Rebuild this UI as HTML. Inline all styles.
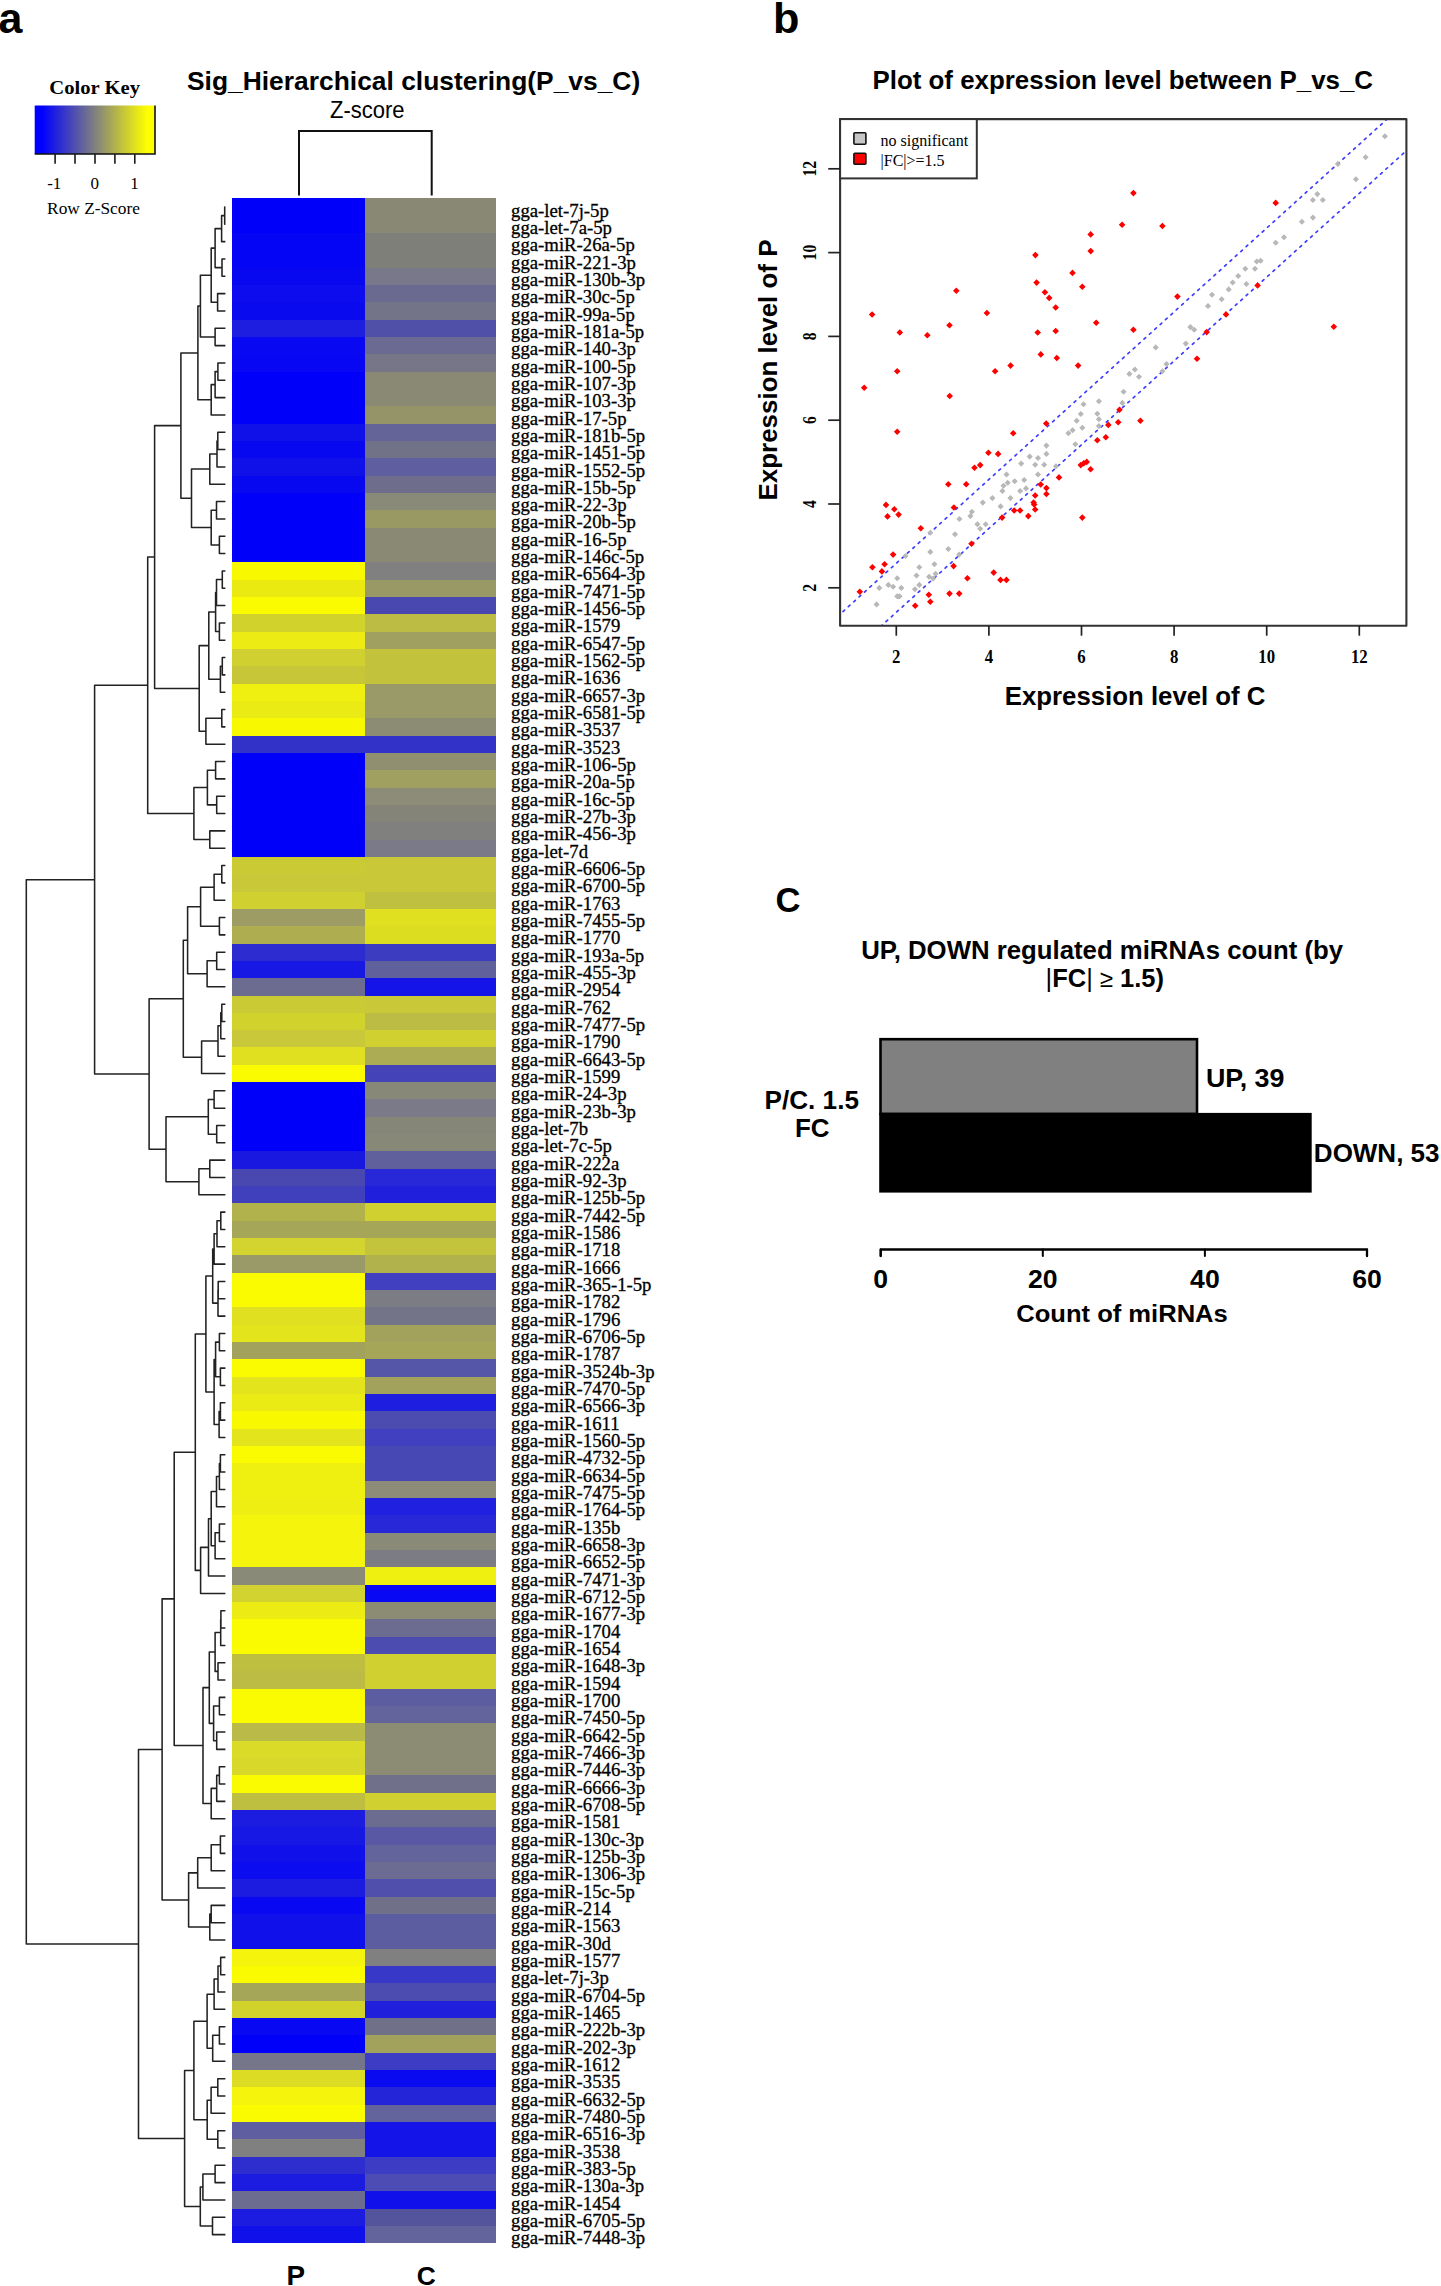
<!DOCTYPE html><html><head><meta charset="utf-8"><style>html,body{margin:0;padding:0;background:#fff;}svg{display:block;}</style></head><body>
<svg width="1441" height="2286" viewBox="0 0 1441 2286">
<rect width="100%" height="100%" fill="#fff"/>
<defs><linearGradient id="ck" x1="0" x2="1" y1="0" y2="0"><stop offset="0" stop-color="#0000ff"/><stop offset="0.06" stop-color="#0000ff"/><stop offset="0.5" stop-color="#808080"/><stop offset="0.94" stop-color="#ffff00"/><stop offset="1" stop-color="#ffff00"/></linearGradient></defs>
<rect x="34.7" y="105.5" width="120" height="48.5" fill="url(#ck)"/>
<path d="M34.7 154 H155 V105.5" fill="none" stroke="#111" stroke-width="1.6"/>
<line x1="55.1" y1="154" x2="55.1" y2="163.8" stroke="#1a1a1a" stroke-width="1.6"/>
<line x1="75.0" y1="154" x2="75.0" y2="163.8" stroke="#1a1a1a" stroke-width="1.6"/>
<line x1="95.0" y1="154" x2="95.0" y2="163.8" stroke="#1a1a1a" stroke-width="1.6"/>
<line x1="114.9" y1="154" x2="114.9" y2="163.8" stroke="#1a1a1a" stroke-width="1.6"/>
<line x1="134.8" y1="154" x2="134.8" y2="163.8" stroke="#1a1a1a" stroke-width="1.6"/>
<g font-family='"Liberation Serif", serif' font-size="17" text-anchor="middle">
<text x="54.3" y="189">-1</text><text x="94.8" y="189">0</text><text x="134.6" y="189">1</text>
</g>
<path d="M299 195.5 V131 H431.7 V195.5" fill="none" stroke="#111" stroke-width="2"/>
<g shape-rendering="crispEdges">
<rect x="232" y="198.3" width="132.8" height="17.33" fill="#0000FA"/>
<rect x="364.8" y="198.3" width="131.2" height="17.33" fill="#888874"/>
<rect x="232" y="215.63" width="132.8" height="17.33" fill="#0000FA"/>
<rect x="364.8" y="215.63" width="131.2" height="17.33" fill="#888874"/>
<rect x="232" y="232.96" width="132.8" height="17.33" fill="#0505F5"/>
<rect x="364.8" y="232.96" width="131.2" height="17.33" fill="#7F7F7A"/>
<rect x="232" y="250.29" width="132.8" height="17.33" fill="#0505F5"/>
<rect x="364.8" y="250.29" width="131.2" height="17.33" fill="#7F7F7A"/>
<rect x="232" y="267.62" width="132.8" height="17.33" fill="#0808F0"/>
<rect x="364.8" y="267.62" width="131.2" height="17.33" fill="#78788A"/>
<rect x="232" y="284.95" width="132.8" height="17.33" fill="#0C0CEE"/>
<rect x="364.8" y="284.95" width="131.2" height="17.33" fill="#6A6A90"/>
<rect x="232" y="302.28" width="132.8" height="17.33" fill="#0A0AEF"/>
<rect x="364.8" y="302.28" width="131.2" height="17.33" fill="#747488"/>
<rect x="232" y="319.61" width="132.8" height="17.33" fill="#1E1EE0"/>
<rect x="364.8" y="319.61" width="131.2" height="17.33" fill="#5050A8"/>
<rect x="232" y="336.94" width="132.8" height="17.33" fill="#0808F2"/>
<rect x="364.8" y="336.94" width="131.2" height="17.33" fill="#6A6A92"/>
<rect x="232" y="354.27" width="132.8" height="17.33" fill="#0707F3"/>
<rect x="364.8" y="354.27" width="131.2" height="17.33" fill="#767688"/>
<rect x="232" y="371.61" width="132.8" height="17.33" fill="#0000FA"/>
<rect x="364.8" y="371.61" width="131.2" height="17.33" fill="#8A8A74"/>
<rect x="232" y="388.94" width="132.8" height="17.33" fill="#0000FA"/>
<rect x="364.8" y="388.94" width="131.2" height="17.33" fill="#8A8A74"/>
<rect x="232" y="406.27" width="132.8" height="17.33" fill="#0000FA"/>
<rect x="364.8" y="406.27" width="131.2" height="17.33" fill="#949468"/>
<rect x="232" y="423.6" width="132.8" height="17.33" fill="#1010E8"/>
<rect x="364.8" y="423.6" width="131.2" height="17.33" fill="#646498"/>
<rect x="232" y="440.93" width="132.8" height="17.33" fill="#0808F0"/>
<rect x="364.8" y="440.93" width="131.2" height="17.33" fill="#717188"/>
<rect x="232" y="458.26" width="132.8" height="17.33" fill="#1010E8"/>
<rect x="364.8" y="458.26" width="131.2" height="17.33" fill="#5E5EA0"/>
<rect x="232" y="475.59" width="132.8" height="17.33" fill="#0808F0"/>
<rect x="364.8" y="475.59" width="131.2" height="17.33" fill="#6E6E8C"/>
<rect x="232" y="492.92" width="132.8" height="17.33" fill="#0000FA"/>
<rect x="364.8" y="492.92" width="131.2" height="17.33" fill="#8A8A78"/>
<rect x="232" y="510.25" width="132.8" height="17.33" fill="#0000FA"/>
<rect x="364.8" y="510.25" width="131.2" height="17.33" fill="#999964"/>
<rect x="232" y="527.58" width="132.8" height="17.33" fill="#0000FA"/>
<rect x="364.8" y="527.58" width="131.2" height="17.33" fill="#8A8A74"/>
<rect x="232" y="544.91" width="132.8" height="17.33" fill="#0000FA"/>
<rect x="364.8" y="544.91" width="131.2" height="17.33" fill="#8A8A74"/>
<rect x="232" y="562.24" width="132.8" height="17.33" fill="#F8F800"/>
<rect x="364.8" y="562.24" width="131.2" height="17.33" fill="#808080"/>
<rect x="232" y="579.57" width="132.8" height="17.33" fill="#EAEA10"/>
<rect x="364.8" y="579.57" width="131.2" height="17.33" fill="#999966"/>
<rect x="232" y="596.9" width="132.8" height="17.33" fill="#FAFA00"/>
<rect x="364.8" y="596.9" width="131.2" height="17.33" fill="#4848B0"/>
<rect x="232" y="614.23" width="132.8" height="17.33" fill="#D2D22C"/>
<rect x="364.8" y="614.23" width="131.2" height="17.33" fill="#BCBC44"/>
<rect x="232" y="631.56" width="132.8" height="17.33" fill="#ECEC14"/>
<rect x="364.8" y="631.56" width="131.2" height="17.33" fill="#A0A060"/>
<rect x="232" y="648.89" width="132.8" height="17.33" fill="#D0D030"/>
<rect x="364.8" y="648.89" width="131.2" height="17.33" fill="#C2C23C"/>
<rect x="232" y="666.22" width="132.8" height="17.33" fill="#C6C638"/>
<rect x="364.8" y="666.22" width="131.2" height="17.33" fill="#C2C23C"/>
<rect x="232" y="683.55" width="132.8" height="17.33" fill="#F0F010"/>
<rect x="364.8" y="683.55" width="131.2" height="17.33" fill="#9A9A68"/>
<rect x="232" y="700.88" width="132.8" height="17.33" fill="#EAEA14"/>
<rect x="364.8" y="700.88" width="131.2" height="17.33" fill="#9A9A68"/>
<rect x="232" y="718.22" width="132.8" height="17.33" fill="#F8F800"/>
<rect x="364.8" y="718.22" width="131.2" height="17.33" fill="#8C8C74"/>
<rect x="232" y="735.55" width="132.8" height="17.33" fill="#3232C8"/>
<rect x="364.8" y="735.55" width="131.2" height="17.33" fill="#3232C8"/>
<rect x="232" y="752.88" width="132.8" height="17.33" fill="#0000FA"/>
<rect x="364.8" y="752.88" width="131.2" height="17.33" fill="#909070"/>
<rect x="232" y="770.21" width="132.8" height="17.33" fill="#0000FA"/>
<rect x="364.8" y="770.21" width="131.2" height="17.33" fill="#A0A060"/>
<rect x="232" y="787.54" width="132.8" height="17.33" fill="#0000FA"/>
<rect x="364.8" y="787.54" width="131.2" height="17.33" fill="#8C8C78"/>
<rect x="232" y="804.87" width="132.8" height="17.33" fill="#0000FA"/>
<rect x="364.8" y="804.87" width="131.2" height="17.33" fill="#848478"/>
<rect x="232" y="822.2" width="132.8" height="17.33" fill="#0000FA"/>
<rect x="364.8" y="822.2" width="131.2" height="17.33" fill="#80807E"/>
<rect x="232" y="839.53" width="132.8" height="17.33" fill="#0000FA"/>
<rect x="364.8" y="839.53" width="131.2" height="17.33" fill="#7A7A88"/>
<rect x="232" y="856.86" width="132.8" height="17.33" fill="#CACA34"/>
<rect x="364.8" y="856.86" width="131.2" height="17.33" fill="#C8C838"/>
<rect x="232" y="874.19" width="132.8" height="17.33" fill="#C8C838"/>
<rect x="364.8" y="874.19" width="131.2" height="17.33" fill="#C8C838"/>
<rect x="232" y="891.52" width="132.8" height="17.33" fill="#D0D030"/>
<rect x="364.8" y="891.52" width="131.2" height="17.33" fill="#C0C040"/>
<rect x="232" y="908.85" width="132.8" height="17.33" fill="#9C9C64"/>
<rect x="364.8" y="908.85" width="131.2" height="17.33" fill="#E0E020"/>
<rect x="232" y="926.18" width="132.8" height="17.33" fill="#AEAE50"/>
<rect x="364.8" y="926.18" width="131.2" height="17.33" fill="#DCDC20"/>
<rect x="232" y="943.51" width="132.8" height="17.33" fill="#2C2CD0"/>
<rect x="364.8" y="943.51" width="131.2" height="17.33" fill="#3C3CC0"/>
<rect x="232" y="960.84" width="132.8" height="17.33" fill="#1818E4"/>
<rect x="364.8" y="960.84" width="131.2" height="17.33" fill="#60609C"/>
<rect x="232" y="978.17" width="132.8" height="17.33" fill="#6C6C90"/>
<rect x="364.8" y="978.17" width="131.2" height="17.33" fill="#1414E8"/>
<rect x="232" y="995.5" width="132.8" height="17.33" fill="#CACA34"/>
<rect x="364.8" y="995.5" width="131.2" height="17.33" fill="#C8C838"/>
<rect x="232" y="1012.83" width="132.8" height="17.33" fill="#D2D22C"/>
<rect x="364.8" y="1012.83" width="131.2" height="17.33" fill="#BCBC44"/>
<rect x="232" y="1030.16" width="132.8" height="17.33" fill="#C8C83A"/>
<rect x="364.8" y="1030.16" width="131.2" height="17.33" fill="#D0D030"/>
<rect x="232" y="1047.49" width="132.8" height="17.33" fill="#E0E020"/>
<rect x="364.8" y="1047.49" width="131.2" height="17.33" fill="#ACAC54"/>
<rect x="232" y="1064.83" width="132.8" height="17.33" fill="#FAFA00"/>
<rect x="364.8" y="1064.83" width="131.2" height="17.33" fill="#4444B8"/>
<rect x="232" y="1082.16" width="132.8" height="17.33" fill="#0000FA"/>
<rect x="364.8" y="1082.16" width="131.2" height="17.33" fill="#888878"/>
<rect x="232" y="1099.49" width="132.8" height="17.33" fill="#0000FA"/>
<rect x="364.8" y="1099.49" width="131.2" height="17.33" fill="#7A7A88"/>
<rect x="232" y="1116.82" width="132.8" height="17.33" fill="#0000FA"/>
<rect x="364.8" y="1116.82" width="131.2" height="17.33" fill="#868678"/>
<rect x="232" y="1134.15" width="132.8" height="17.33" fill="#0000FA"/>
<rect x="364.8" y="1134.15" width="131.2" height="17.33" fill="#888878"/>
<rect x="232" y="1151.48" width="132.8" height="17.33" fill="#1818E0"/>
<rect x="364.8" y="1151.48" width="131.2" height="17.33" fill="#60609C"/>
<rect x="232" y="1168.81" width="132.8" height="17.33" fill="#4848B0"/>
<rect x="364.8" y="1168.81" width="131.2" height="17.33" fill="#2828D8"/>
<rect x="232" y="1186.14" width="132.8" height="17.33" fill="#4040BC"/>
<rect x="364.8" y="1186.14" width="131.2" height="17.33" fill="#2020DC"/>
<rect x="232" y="1203.47" width="132.8" height="17.33" fill="#B2B24C"/>
<rect x="364.8" y="1203.47" width="131.2" height="17.33" fill="#D0D030"/>
<rect x="232" y="1220.8" width="132.8" height="17.33" fill="#A6A658"/>
<rect x="364.8" y="1220.8" width="131.2" height="17.33" fill="#A6A658"/>
<rect x="232" y="1238.13" width="132.8" height="17.33" fill="#D4D430"/>
<rect x="364.8" y="1238.13" width="131.2" height="17.33" fill="#C4C43C"/>
<rect x="232" y="1255.46" width="132.8" height="17.33" fill="#9A9A68"/>
<rect x="364.8" y="1255.46" width="131.2" height="17.33" fill="#B2B24C"/>
<rect x="232" y="1272.79" width="132.8" height="17.33" fill="#FAFA00"/>
<rect x="364.8" y="1272.79" width="131.2" height="17.33" fill="#4040C0"/>
<rect x="232" y="1290.12" width="132.8" height="17.33" fill="#FAFA00"/>
<rect x="364.8" y="1290.12" width="131.2" height="17.33" fill="#7C7C84"/>
<rect x="232" y="1307.45" width="132.8" height="17.33" fill="#E0E020"/>
<rect x="364.8" y="1307.45" width="131.2" height="17.33" fill="#747488"/>
<rect x="232" y="1324.78" width="132.8" height="17.33" fill="#E4E41C"/>
<rect x="364.8" y="1324.78" width="131.2" height="17.33" fill="#A2A25C"/>
<rect x="232" y="1342.11" width="132.8" height="17.33" fill="#A2A25C"/>
<rect x="364.8" y="1342.11" width="131.2" height="17.33" fill="#A6A658"/>
<rect x="232" y="1359.44" width="132.8" height="17.33" fill="#FAFA00"/>
<rect x="364.8" y="1359.44" width="131.2" height="17.33" fill="#5656A8"/>
<rect x="232" y="1376.77" width="132.8" height="17.33" fill="#E4E41C"/>
<rect x="364.8" y="1376.77" width="131.2" height="17.33" fill="#A2A25C"/>
<rect x="232" y="1394.11" width="132.8" height="17.33" fill="#EAEA14"/>
<rect x="364.8" y="1394.11" width="131.2" height="17.33" fill="#1E1EE0"/>
<rect x="232" y="1411.44" width="132.8" height="17.33" fill="#F8F800"/>
<rect x="364.8" y="1411.44" width="131.2" height="17.33" fill="#4C4CB0"/>
<rect x="232" y="1428.77" width="132.8" height="17.33" fill="#E4E41C"/>
<rect x="364.8" y="1428.77" width="131.2" height="17.33" fill="#4040C0"/>
<rect x="232" y="1446.1" width="132.8" height="17.33" fill="#FAFA00"/>
<rect x="364.8" y="1446.1" width="131.2" height="17.33" fill="#4848B4"/>
<rect x="232" y="1463.43" width="132.8" height="17.33" fill="#F0F010"/>
<rect x="364.8" y="1463.43" width="131.2" height="17.33" fill="#4848B4"/>
<rect x="232" y="1480.76" width="132.8" height="17.33" fill="#F0F010"/>
<rect x="364.8" y="1480.76" width="131.2" height="17.33" fill="#8C8C78"/>
<rect x="232" y="1498.09" width="132.8" height="17.33" fill="#EEEE12"/>
<rect x="364.8" y="1498.09" width="131.2" height="17.33" fill="#2020E0"/>
<rect x="232" y="1515.42" width="132.8" height="17.33" fill="#F4F40C"/>
<rect x="364.8" y="1515.42" width="131.2" height="17.33" fill="#2828D8"/>
<rect x="232" y="1532.75" width="132.8" height="17.33" fill="#F4F40C"/>
<rect x="364.8" y="1532.75" width="131.2" height="17.33" fill="#8A8A78"/>
<rect x="232" y="1550.08" width="132.8" height="17.33" fill="#F4F40C"/>
<rect x="364.8" y="1550.08" width="131.2" height="17.33" fill="#7C7C84"/>
<rect x="232" y="1567.41" width="132.8" height="17.33" fill="#8A8A78"/>
<rect x="364.8" y="1567.41" width="131.2" height="17.33" fill="#F0F010"/>
<rect x="232" y="1584.74" width="132.8" height="17.33" fill="#D2D230"/>
<rect x="364.8" y="1584.74" width="131.2" height="17.33" fill="#0808F4"/>
<rect x="232" y="1602.07" width="132.8" height="17.33" fill="#ECEC14"/>
<rect x="364.8" y="1602.07" width="131.2" height="17.33" fill="#8C8C74"/>
<rect x="232" y="1619.4" width="132.8" height="17.33" fill="#FAFA00"/>
<rect x="364.8" y="1619.4" width="131.2" height="17.33" fill="#6C6C90"/>
<rect x="232" y="1636.73" width="132.8" height="17.33" fill="#FAFA00"/>
<rect x="364.8" y="1636.73" width="131.2" height="17.33" fill="#4C4CB0"/>
<rect x="232" y="1654.06" width="132.8" height="17.33" fill="#BEBE40"/>
<rect x="364.8" y="1654.06" width="131.2" height="17.33" fill="#D0D030"/>
<rect x="232" y="1671.39" width="132.8" height="17.33" fill="#BCBC44"/>
<rect x="364.8" y="1671.39" width="131.2" height="17.33" fill="#D0D030"/>
<rect x="232" y="1688.72" width="132.8" height="17.33" fill="#FAFA00"/>
<rect x="364.8" y="1688.72" width="131.2" height="17.33" fill="#5C5CA0"/>
<rect x="232" y="1706.05" width="132.8" height="17.33" fill="#FAFA00"/>
<rect x="364.8" y="1706.05" width="131.2" height="17.33" fill="#64649C"/>
<rect x="232" y="1723.38" width="132.8" height="17.33" fill="#BABA48"/>
<rect x="364.8" y="1723.38" width="131.2" height="17.33" fill="#8C8C74"/>
<rect x="232" y="1740.72" width="132.8" height="17.33" fill="#DADA28"/>
<rect x="364.8" y="1740.72" width="131.2" height="17.33" fill="#8C8C74"/>
<rect x="232" y="1758.05" width="132.8" height="17.33" fill="#D8D82A"/>
<rect x="364.8" y="1758.05" width="131.2" height="17.33" fill="#8C8C74"/>
<rect x="232" y="1775.38" width="132.8" height="17.33" fill="#FAFA00"/>
<rect x="364.8" y="1775.38" width="131.2" height="17.33" fill="#70708A"/>
<rect x="232" y="1792.71" width="132.8" height="17.33" fill="#BEBE40"/>
<rect x="364.8" y="1792.71" width="131.2" height="17.33" fill="#D0D030"/>
<rect x="232" y="1810.04" width="132.8" height="17.33" fill="#1C1CE0"/>
<rect x="364.8" y="1810.04" width="131.2" height="17.33" fill="#6C6C90"/>
<rect x="232" y="1827.37" width="132.8" height="17.33" fill="#1818E4"/>
<rect x="364.8" y="1827.37" width="131.2" height="17.33" fill="#5858A4"/>
<rect x="232" y="1844.7" width="132.8" height="17.33" fill="#1010EA"/>
<rect x="364.8" y="1844.7" width="131.2" height="17.33" fill="#64649C"/>
<rect x="232" y="1862.03" width="132.8" height="17.33" fill="#0C0CF0"/>
<rect x="364.8" y="1862.03" width="131.2" height="17.33" fill="#6C6C92"/>
<rect x="232" y="1879.36" width="132.8" height="17.33" fill="#1C1CE0"/>
<rect x="364.8" y="1879.36" width="131.2" height="17.33" fill="#5050AC"/>
<rect x="232" y="1896.69" width="132.8" height="17.33" fill="#0808F2"/>
<rect x="364.8" y="1896.69" width="131.2" height="17.33" fill="#707088"/>
<rect x="232" y="1914.02" width="132.8" height="17.33" fill="#1010EA"/>
<rect x="364.8" y="1914.02" width="131.2" height="17.33" fill="#5C5CA0"/>
<rect x="232" y="1931.35" width="132.8" height="17.33" fill="#1010EA"/>
<rect x="364.8" y="1931.35" width="131.2" height="17.33" fill="#5C5CA0"/>
<rect x="232" y="1948.68" width="132.8" height="17.33" fill="#F4F40C"/>
<rect x="364.8" y="1948.68" width="131.2" height="17.33" fill="#808080"/>
<rect x="232" y="1966.01" width="132.8" height="17.33" fill="#FAFA00"/>
<rect x="364.8" y="1966.01" width="131.2" height="17.33" fill="#3838C8"/>
<rect x="232" y="1983.34" width="132.8" height="17.33" fill="#A6A658"/>
<rect x="364.8" y="1983.34" width="131.2" height="17.33" fill="#4C4CB0"/>
<rect x="232" y="2000.67" width="132.8" height="17.33" fill="#D2D22C"/>
<rect x="364.8" y="2000.67" width="131.2" height="17.33" fill="#2020DC"/>
<rect x="232" y="2018" width="132.8" height="17.33" fill="#0808F2"/>
<rect x="364.8" y="2018" width="131.2" height="17.33" fill="#707088"/>
<rect x="232" y="2035.33" width="132.8" height="17.33" fill="#0000FA"/>
<rect x="364.8" y="2035.33" width="131.2" height="17.33" fill="#A2A25C"/>
<rect x="232" y="2052.66" width="132.8" height="17.33" fill="#76768A"/>
<rect x="364.8" y="2052.66" width="131.2" height="17.33" fill="#3C3CC4"/>
<rect x="232" y="2069.99" width="132.8" height="17.33" fill="#DCDC24"/>
<rect x="364.8" y="2069.99" width="131.2" height="17.33" fill="#0A0AF0"/>
<rect x="232" y="2087.33" width="132.8" height="17.33" fill="#F4F40C"/>
<rect x="364.8" y="2087.33" width="131.2" height="17.33" fill="#2424D8"/>
<rect x="232" y="2104.66" width="132.8" height="17.33" fill="#FAFA00"/>
<rect x="364.8" y="2104.66" width="131.2" height="17.33" fill="#64649C"/>
<rect x="232" y="2121.99" width="132.8" height="17.33" fill="#5E5EA0"/>
<rect x="364.8" y="2121.99" width="131.2" height="17.33" fill="#1414E8"/>
<rect x="232" y="2139.32" width="132.8" height="17.33" fill="#808080"/>
<rect x="364.8" y="2139.32" width="131.2" height="17.33" fill="#1414E8"/>
<rect x="232" y="2156.65" width="132.8" height="17.33" fill="#2E2ECE"/>
<rect x="364.8" y="2156.65" width="131.2" height="17.33" fill="#3C3CC4"/>
<rect x="232" y="2173.98" width="132.8" height="17.33" fill="#1C1CE0"/>
<rect x="364.8" y="2173.98" width="131.2" height="17.33" fill="#4C4CB4"/>
<rect x="232" y="2191.31" width="132.8" height="17.33" fill="#6C6C90"/>
<rect x="364.8" y="2191.31" width="131.2" height="17.33" fill="#1010EA"/>
<rect x="232" y="2208.64" width="132.8" height="17.33" fill="#1C1CE0"/>
<rect x="364.8" y="2208.64" width="131.2" height="17.33" fill="#54549C"/>
<rect x="232" y="2225.97" width="132.8" height="17.33" fill="#1010EA"/>
<rect x="364.8" y="2225.97" width="131.2" height="17.33" fill="#64649C"/>
</g>
<g font-family='"Liberation Serif", serif' font-size="18" stroke="#000" stroke-width="0.3" transform="translate(511.1 0) scale(1.04 1)">
<text x="0" y="216.57">gga-let-7j-5p</text>
<text x="0" y="233.9">gga-let-7a-5p</text>
<text x="0" y="251.23">gga-miR-26a-5p</text>
<text x="0" y="268.56">gga-miR-221-3p</text>
<text x="0" y="285.89">gga-miR-130b-3p</text>
<text x="0" y="303.22">gga-miR-30c-5p</text>
<text x="0" y="320.55">gga-miR-99a-5p</text>
<text x="0" y="337.88">gga-miR-181a-5p</text>
<text x="0" y="355.21">gga-miR-140-3p</text>
<text x="0" y="372.54">gga-miR-100-5p</text>
<text x="0" y="389.87">gga-miR-107-3p</text>
<text x="0" y="407.2">gga-miR-103-3p</text>
<text x="0" y="424.53">gga-miR-17-5p</text>
<text x="0" y="441.86">gga-miR-181b-5p</text>
<text x="0" y="459.19">gga-miR-1451-5p</text>
<text x="0" y="476.52">gga-miR-1552-5p</text>
<text x="0" y="493.85">gga-miR-15b-5p</text>
<text x="0" y="511.18">gga-miR-22-3p</text>
<text x="0" y="528.51">gga-miR-20b-5p</text>
<text x="0" y="545.84">gga-miR-16-5p</text>
<text x="0" y="563.18">gga-miR-146c-5p</text>
<text x="0" y="580.51">gga-miR-6564-3p</text>
<text x="0" y="597.84">gga-miR-7471-5p</text>
<text x="0" y="615.17">gga-miR-1456-5p</text>
<text x="0" y="632.5">gga-miR-1579</text>
<text x="0" y="649.83">gga-miR-6547-5p</text>
<text x="0" y="667.16">gga-miR-1562-5p</text>
<text x="0" y="684.49">gga-miR-1636</text>
<text x="0" y="701.82">gga-miR-6657-3p</text>
<text x="0" y="719.15">gga-miR-6581-5p</text>
<text x="0" y="736.48">gga-miR-3537</text>
<text x="0" y="753.81">gga-miR-3523</text>
<text x="0" y="771.14">gga-miR-106-5p</text>
<text x="0" y="788.47">gga-miR-20a-5p</text>
<text x="0" y="805.8">gga-miR-16c-5p</text>
<text x="0" y="823.13">gga-miR-27b-3p</text>
<text x="0" y="840.46">gga-miR-456-3p</text>
<text x="0" y="857.79">gga-let-7d</text>
<text x="0" y="875.12">gga-miR-6606-5p</text>
<text x="0" y="892.46">gga-miR-6700-5p</text>
<text x="0" y="909.79">gga-miR-1763</text>
<text x="0" y="927.12">gga-miR-7455-5p</text>
<text x="0" y="944.45">gga-miR-1770</text>
<text x="0" y="961.78">gga-miR-193a-5p</text>
<text x="0" y="979.11">gga-miR-455-3p</text>
<text x="0" y="996.44">gga-miR-2954</text>
<text x="0" y="1013.77">gga-miR-762</text>
<text x="0" y="1031.1">gga-miR-7477-5p</text>
<text x="0" y="1048.43">gga-miR-1790</text>
<text x="0" y="1065.76">gga-miR-6643-5p</text>
<text x="0" y="1083.09">gga-miR-1599</text>
<text x="0" y="1100.42">gga-miR-24-3p</text>
<text x="0" y="1117.75">gga-miR-23b-3p</text>
<text x="0" y="1135.08">gga-let-7b</text>
<text x="0" y="1152.41">gga-let-7c-5p</text>
<text x="0" y="1169.74">gga-miR-222a</text>
<text x="0" y="1187.07">gga-miR-92-3p</text>
<text x="0" y="1204.4">gga-miR-125b-5p</text>
<text x="0" y="1221.73">gga-miR-7442-5p</text>
<text x="0" y="1239.07">gga-miR-1586</text>
<text x="0" y="1256.4">gga-miR-1718</text>
<text x="0" y="1273.73">gga-miR-1666</text>
<text x="0" y="1291.06">gga-miR-365-1-5p</text>
<text x="0" y="1308.39">gga-miR-1782</text>
<text x="0" y="1325.72">gga-miR-1796</text>
<text x="0" y="1343.05">gga-miR-6706-5p</text>
<text x="0" y="1360.38">gga-miR-1787</text>
<text x="0" y="1377.71">gga-miR-3524b-3p</text>
<text x="0" y="1395.04">gga-miR-7470-5p</text>
<text x="0" y="1412.37">gga-miR-6566-3p</text>
<text x="0" y="1429.7">gga-miR-1611</text>
<text x="0" y="1447.03">gga-miR-1560-5p</text>
<text x="0" y="1464.36">gga-miR-4732-5p</text>
<text x="0" y="1481.69">gga-miR-6634-5p</text>
<text x="0" y="1499.02">gga-miR-7475-5p</text>
<text x="0" y="1516.35">gga-miR-1764-5p</text>
<text x="0" y="1533.68">gga-miR-135b</text>
<text x="0" y="1551.01">gga-miR-6658-3p</text>
<text x="0" y="1568.34">gga-miR-6652-5p</text>
<text x="0" y="1585.68">gga-miR-7471-3p</text>
<text x="0" y="1603.01">gga-miR-6712-5p</text>
<text x="0" y="1620.34">gga-miR-1677-3p</text>
<text x="0" y="1637.67">gga-miR-1704</text>
<text x="0" y="1655">gga-miR-1654</text>
<text x="0" y="1672.33">gga-miR-1648-3p</text>
<text x="0" y="1689.66">gga-miR-1594</text>
<text x="0" y="1706.99">gga-miR-1700</text>
<text x="0" y="1724.32">gga-miR-7450-5p</text>
<text x="0" y="1741.65">gga-miR-6642-5p</text>
<text x="0" y="1758.98">gga-miR-7466-3p</text>
<text x="0" y="1776.31">gga-miR-7446-3p</text>
<text x="0" y="1793.64">gga-miR-6666-3p</text>
<text x="0" y="1810.97">gga-miR-6708-5p</text>
<text x="0" y="1828.3">gga-miR-1581</text>
<text x="0" y="1845.63">gga-miR-130c-3p</text>
<text x="0" y="1862.96">gga-miR-125b-3p</text>
<text x="0" y="1880.29">gga-miR-1306-3p</text>
<text x="0" y="1897.62">gga-miR-15c-5p</text>
<text x="0" y="1914.96">gga-miR-214</text>
<text x="0" y="1932.29">gga-miR-1563</text>
<text x="0" y="1949.62">gga-miR-30d</text>
<text x="0" y="1966.95">gga-miR-1577</text>
<text x="0" y="1984.28">gga-let-7j-3p</text>
<text x="0" y="2001.61">gga-miR-6704-5p</text>
<text x="0" y="2018.94">gga-miR-1465</text>
<text x="0" y="2036.27">gga-miR-222b-3p</text>
<text x="0" y="2053.6">gga-miR-202-3p</text>
<text x="0" y="2070.93">gga-miR-1612</text>
<text x="0" y="2088.26">gga-miR-3535</text>
<text x="0" y="2105.59">gga-miR-6632-5p</text>
<text x="0" y="2122.92">gga-miR-7480-5p</text>
<text x="0" y="2140.25">gga-miR-6516-3p</text>
<text x="0" y="2157.58">gga-miR-3538</text>
<text x="0" y="2174.91">gga-miR-383-5p</text>
<text x="0" y="2192.24">gga-miR-130a-3p</text>
<text x="0" y="2209.57">gga-miR-1454</text>
<text x="0" y="2226.9">gga-miR-6705-5p</text>
<text x="0" y="2244.23">gga-miR-7448-3p</text>
</g>
<path d="M225.4 206.97H224.7V224.3H225.4M224.7 215.63H221.6V241.63H225.4M225.4 258.96H222V276.29H225.4M221.6 228.63H215.1V267.62H222M225.4 293.62H217.6V310.95H225.4M215.1 248.13H211.2V302.28H217.6M225.4 328.28H215.1V345.61H225.4M211.2 275.2H200.4V336.94H215.1M225.4 362.94H217.9V380.27H225.4M217.9 371.61H215.1V397.6H225.4M215.1 384.6H211.2V414.93H225.4M200.4 306.07H197.9V399.77H211.2M225.4 432.26H217.8V449.59H225.4M217.8 440.93H217V466.92H225.4M217 453.92H209.8V484.25H225.4M225.4 501.58H216.5V518.91H225.4M225.4 536.24H219.4V553.58H225.4M216.5 510.25H211.2V544.91H219.4M209.8 469.09H191.5V527.58H211.2M197.9 352.92H180.9V498.33H191.5M225.4 570.91H222.3V588.24H225.4M222.3 579.57H216.5V605.57H225.4M225.4 622.9H219.4V640.23H225.4M216.5 592.57H215.6V631.56H219.4M225.4 657.56H222.3V674.89H225.4M222.3 666.22H220.4V692.22H225.4M215.6 612.07H208.8V679.22H220.4M225.4 709.55H221.8V726.88H225.4M221.8 718.22H205.9V744.21H225.4M208.8 645.64H199.2V731.21H205.9M180.9 425.63H154.6V688.43H199.2M225.4 761.54H215.6V778.87H225.4M225.4 796.2H216.7V813.53H225.4M215.6 770.21H207.4V804.87H216.7M225.4 830.86H209.8V848.19H225.4M207.4 787.54H193.9V839.53H209.8M154.6 557.03H147.7V813.53H193.9M225.4 865.52H221.8V882.86H225.4M221.8 874.19H214.1V900.19H225.4M225.4 917.52H219.4V934.85H225.4M214.1 887.19H200.6V926.18H219.4M225.4 952.18H216.7V969.51H225.4M216.7 960.84H207.1V986.84H225.4M200.6 906.68H187.6V973.84H207.1M225.4 1004.17H221.8V1021.5H225.4M221.8 1012.83H220.8V1038.83H225.4M220.8 1025.83H218V1056.16H225.4M218 1041H201.6V1073.49H225.4M187.6 940.26H183.3V1057.24H201.6M225.4 1090.82H214.1V1108.15H225.4M225.4 1125.48H216.7V1142.81H225.4M214.1 1099.49H208.3V1134.15H216.7M225.4 1160.14H209.8V1177.47H225.4M209.8 1168.81H198.9V1194.8H225.4M208.3 1116.82H166V1181.81H198.9M183.3 998.75H149.1V1149.31H166M147.7 685.28H94.6V1074.03H149.1M225.4 1212.13H220.8V1229.47H225.4M220.8 1220.8H217V1246.8H225.4M217 1233.8H214.1V1264.13H225.4M225.4 1281.46H218.2V1298.79H225.4M218.2 1290.12H218V1316.12H225.4M214.1 1248.96H212.7V1303.12H218M225.4 1333.45H219.4V1350.78H225.4M225.4 1368.11H220.4V1385.44H225.4M219.4 1342.11H215.6V1376.77H220.4M225.4 1402.77H220.4V1420.1H225.4M220.4 1411.44H219.1V1437.43H225.4M215.6 1359.44H214.1V1424.43H219.1M212.7 1276.04H205.9V1391.94H214.1M225.4 1454.76H220.4V1472.09H225.4M220.4 1463.43H219.4V1489.42H225.4M219.4 1476.42H216.5V1506.75H225.4M225.4 1524.08H219.4V1541.41H225.4M219.4 1532.75H215.1V1558.74H225.4M216.5 1491.59H211.2V1545.75H215.1M211.2 1518.67H208.5V1576.08H225.4M208.5 1547.37H200.6V1593.41H225.4M205.9 1333.99H195.3V1570.39H200.6M225.4 1610.74H220.9V1628.07H225.4M220.9 1619.4H220.7V1645.4H225.4M225.4 1662.73H218V1680.06H225.4M220.7 1632.4H215.1V1671.39H218M225.4 1697.39H219.4V1714.72H225.4M225.4 1732.05H216.7V1749.38H225.4M219.4 1706.05H213.6V1740.72H216.7M215.1 1651.9H209.3V1723.38H213.6M225.4 1766.71H219.4V1784.04H225.4M219.4 1775.38H216.7V1801.37H225.4M216.7 1788.37H211.2V1818.7H225.4M209.3 1687.64H203V1803.54H211.2M195.3 1452.19H174.2V1745.59H203M225.4 1836.03H220.4V1853.36H225.4M220.4 1844.7H211.2V1870.69H225.4M211.2 1857.7H197.7V1888.02H225.4M225.4 1905.36H211.2V1922.69H225.4M211.2 1914.02H209.8V1940.02H225.4M197.7 1872.86H188.6V1927.02H209.8M174.2 1598.89H162.1V1899.94H188.6M225.4 1957.35H220.7V1974.68H225.4M220.7 1966.01H218V1992.01H225.4M218 1979.01H214.1V2009.34H225.4M225.4 2026.67H219.4V2044H225.4M219.4 2035.33H212.7V2061.33H225.4M214.1 1994.17H207.1V2048.33H212.7M225.4 2078.66H217.8V2095.99H225.4M217.8 2087.33H211.1V2113.32H225.4M225.4 2130.65H217.8V2147.98H225.4M211.1 2100.32H207.2V2139.32H217.8M207.1 2021.25H193.9V2119.82H207.2M225.4 2165.31H215.1V2182.64H225.4M215.1 2173.98H202.9V2199.97H225.4M225.4 2217.3H212.5V2234.63H225.4M202.9 2186.98H200.3V2225.97H212.5M193.9 2070.54H184.6V2206.47H200.3M162.1 1749.41H138.5V2138.5H184.6M94.6 879.66H26.3V1943.96H138.5" fill="none" stroke="#222" stroke-width="1.55" stroke-linejoin="round"/>
<defs><clipPath id="pc"><rect x="840.1" y="119.1" width="566.3000000000001" height="506.69999999999993"/></clipPath></defs>
<g clip-path="url(#pc)" stroke="#3b3bff" stroke-width="1.65" stroke-dasharray="2.2 5.05" stroke-linecap="round">
<line x1="826.85" y1="626.14" x2="1428.75" y2="81.44"/>
<line x1="826.85" y1="675.16" x2="1428.75" y2="130.46"/>
</g>
<path fill="#b8b8b8" d="M1256.8 258.45l3.05 3.05l-3.05 3.05l-3.05 -3.05zM1245.3 265.75l3.05 3.05l-3.05 3.05l-3.05 -3.05zM1255 265.75l3.05 3.05l-3.05 3.05l-3.05 -3.05zM1238.2 272.95l3.05 3.05l-3.05 3.05l-3.05 -3.05zM1232.7 279.45l3.05 3.05l-3.05 3.05l-3.05 -3.05zM1246.4 280.95l3.05 3.05l-3.05 3.05l-3.05 -3.05zM1228.7 286.35l3.05 3.05l-3.05 3.05l-3.05 -3.05zM1212 291.65l3.05 3.05l-3.05 3.05l-3.05 -3.05zM1221.7 296.15l3.05 3.05l-3.05 3.05l-3.05 -3.05zM1208 302.95l3.05 3.05l-3.05 3.05l-3.05 -3.05zM1190.4 324.05l3.05 3.05l-3.05 3.05l-3.05 -3.05zM1194.2 326.65l3.05 3.05l-3.05 3.05l-3.05 -3.05zM1185.8 340.55l3.05 3.05l-3.05 3.05l-3.05 -3.05zM1155.7 344.35l3.05 3.05l-3.05 3.05l-3.05 -3.05zM1384.9 133.15l3.05 3.05l-3.05 3.05l-3.05 -3.05zM1365.6 154.15l3.05 3.05l-3.05 3.05l-3.05 -3.05zM1337.9 160.85l3.05 3.05l-3.05 3.05l-3.05 -3.05zM1355.9 176.25l3.05 3.05l-3.05 3.05l-3.05 -3.05zM1317.3 191.05l3.05 3.05l-3.05 3.05l-3.05 -3.05zM1312.9 196.95l3.05 3.05l-3.05 3.05l-3.05 -3.05zM1322.8 196.95l3.05 3.05l-3.05 3.05l-3.05 -3.05zM1312.9 214.55l3.05 3.05l-3.05 3.05l-3.05 -3.05zM1301.9 218.75l3.05 3.05l-3.05 3.05l-3.05 -3.05zM1284 234.15l3.05 3.05l-3.05 3.05l-3.05 -3.05zM1275.7 239.65l3.05 3.05l-3.05 3.05l-3.05 -3.05zM1260.6 257.65l3.05 3.05l-3.05 3.05l-3.05 -3.05zM1166.5 361.05l3.05 3.05l-3.05 3.05l-3.05 -3.05zM1162.4 368.15l3.05 3.05l-3.05 3.05l-3.05 -3.05zM1134.9 366.45l3.05 3.05l-3.05 3.05l-3.05 -3.05zM1129.4 370.85l3.05 3.05l-3.05 3.05l-3.05 -3.05zM1139 373.75l3.05 3.05l-3.05 3.05l-3.05 -3.05zM1123.6 388.65l3.05 3.05l-3.05 3.05l-3.05 -3.05zM1098.9 398.25l3.05 3.05l-3.05 3.05l-3.05 -3.05zM1083.5 401.25l3.05 3.05l-3.05 3.05l-3.05 -3.05zM1122.3 399.85l3.05 3.05l-3.05 3.05l-3.05 -3.05zM1080.8 410.95l3.05 3.05l-3.05 3.05l-3.05 -3.05zM1097.3 410.65l3.05 3.05l-3.05 3.05l-3.05 -3.05zM1098.9 416.25l3.05 3.05l-3.05 3.05l-3.05 -3.05zM1076.7 417.75l3.05 3.05l-3.05 3.05l-3.05 -3.05zM1098.9 423.05l3.05 3.05l-3.05 3.05l-3.05 -3.05zM1082.3 424.65l3.05 3.05l-3.05 3.05l-3.05 -3.05zM1072.6 427.25l3.05 3.05l-3.05 3.05l-3.05 -3.05zM1068.4 430.15l3.05 3.05l-3.05 3.05l-3.05 -3.05zM1075.3 441.15l3.05 3.05l-3.05 3.05l-3.05 -3.05zM1046.4 442.55l3.05 3.05l-3.05 3.05l-3.05 -3.05zM1046.4 450.85l3.05 3.05l-3.05 3.05l-3.05 -3.05zM1029.7 453.55l3.05 3.05l-3.05 3.05l-3.05 -3.05zM1038 454.95l3.05 3.05l-3.05 3.05l-3.05 -3.05zM1021.2 460.55l3.05 3.05l-3.05 3.05l-3.05 -3.05zM1035.2 461.75l3.05 3.05l-3.05 3.05l-3.05 -3.05zM1044.2 461.75l3.05 3.05l-3.05 3.05l-3.05 -3.05zM1056 463.15l3.05 3.05l-3.05 3.05l-3.05 -3.05zM1006.5 471.45l3.05 3.05l-3.05 3.05l-3.05 -3.05zM1038 471.45l3.05 3.05l-3.05 3.05l-3.05 -3.05zM1014.7 478.15l3.05 3.05l-3.05 3.05l-3.05 -3.05zM1024.2 476.95l3.05 3.05l-3.05 3.05l-3.05 -3.05zM1007.7 479.75l3.05 3.05l-3.05 3.05l-3.05 -3.05zM1003.5 482.65l3.05 3.05l-3.05 3.05l-3.05 -3.05zM1002.4 487.95l3.05 3.05l-3.05 3.05l-3.05 -3.05zM1020.1 487.95l3.05 3.05l-3.05 3.05l-3.05 -3.05zM1026 485.35l3.05 3.05l-3.05 3.05l-3.05 -3.05zM1010.4 495.05l3.05 3.05l-3.05 3.05l-3.05 -3.05zM1000.6 503.35l3.05 3.05l-3.05 3.05l-3.05 -3.05zM992.4 495.05l3.05 3.05l-3.05 3.05l-3.05 -3.05zM982.8 499.55l3.05 3.05l-3.05 3.05l-3.05 -3.05zM971.9 508.65l3.05 3.05l-3.05 3.05l-3.05 -3.05zM970.4 513.05l3.05 3.05l-3.05 3.05l-3.05 -3.05zM959.4 515.95l3.05 3.05l-3.05 3.05l-3.05 -3.05zM977.4 521.25l3.05 3.05l-3.05 3.05l-3.05 -3.05zM985.7 521.25l3.05 3.05l-3.05 3.05l-3.05 -3.05zM980.2 525.75l3.05 3.05l-3.05 3.05l-3.05 -3.05zM955 531.15l3.05 3.05l-3.05 3.05l-3.05 -3.05zM930.3 529.65l3.05 3.05l-3.05 3.05l-3.05 -3.05zM948.3 545.95l3.05 3.05l-3.05 3.05l-3.05 -3.05zM930.3 548.85l3.05 3.05l-3.05 3.05l-3.05 -3.05zM959.2 551.55l3.05 3.05l-3.05 3.05l-3.05 -3.05zM905.5 552.95l3.05 3.05l-3.05 3.05l-3.05 -3.05zM919.3 564.15l3.05 3.05l-3.05 3.05l-3.05 -3.05zM934.4 561.25l3.05 3.05l-3.05 3.05l-3.05 -3.05zM916.5 572.45l3.05 3.05l-3.05 3.05l-3.05 -3.05zM897.2 575.15l3.05 3.05l-3.05 3.05l-3.05 -3.05zM929.1 573.65l3.05 3.05l-3.05 3.05l-3.05 -3.05zM933.2 575.45l3.05 3.05l-3.05 3.05l-3.05 -3.05zM935.6 570.65l3.05 3.05l-3.05 3.05l-3.05 -3.05zM919.3 581.85l3.05 3.05l-3.05 3.05l-3.05 -3.05zM914.9 586.25l3.05 3.05l-3.05 3.05l-3.05 -3.05zM888.4 581.85l3.05 3.05l-3.05 3.05l-3.05 -3.05zM893.1 583.65l3.05 3.05l-3.05 3.05l-3.05 -3.05zM901.3 584.85l3.05 3.05l-3.05 3.05l-3.05 -3.05zM879.3 584.85l3.05 3.05l-3.05 3.05l-3.05 -3.05zM897.2 593.15l3.05 3.05l-3.05 3.05l-3.05 -3.05zM899.6 593.15l3.05 3.05l-3.05 3.05l-3.05 -3.05zM876.6 601.35l3.05 3.05l-3.05 3.05l-3.05 -3.05z"/>
<path fill="#ff0000" d="M1035.4 251.8l3.3 3.3l-3.3 3.3l-3.3 -3.3zM1036.6 279.3l3.3 3.3l-3.3 3.3l-3.3 -3.3zM956.3 287.5l3.3 3.3l-3.3 3.3l-3.3 -3.3zM1044.9 288.9l3.3 3.3l-3.3 3.3l-3.3 -3.3zM1049.2 294.6l3.3 3.3l-3.3 3.3l-3.3 -3.3zM1055.7 304.2l3.3 3.3l-3.3 3.3l-3.3 -3.3zM872.1 311.2l3.3 3.3l-3.3 3.3l-3.3 -3.3zM986.9 309.7l3.3 3.3l-3.3 3.3l-3.3 -3.3zM949.5 322l3.3 3.3l-3.3 3.3l-3.3 -3.3zM899.8 329.2l3.3 3.3l-3.3 3.3l-3.3 -3.3zM927.3 332l3.3 3.3l-3.3 3.3l-3.3 -3.3zM1037.7 329.2l3.3 3.3l-3.3 3.3l-3.3 -3.3zM1055.7 327.7l3.3 3.3l-3.3 3.3l-3.3 -3.3zM1040.8 351.1l3.3 3.3l-3.3 3.3l-3.3 -3.3zM1056.8 354.7l3.3 3.3l-3.3 3.3l-3.3 -3.3zM1133.4 189.8l3.3 3.3l-3.3 3.3l-3.3 -3.3zM1122.1 221.5l3.3 3.3l-3.3 3.3l-3.3 -3.3zM1162.4 222.7l3.3 3.3l-3.3 3.3l-3.3 -3.3zM1090.7 231.1l3.3 3.3l-3.3 3.3l-3.3 -3.3zM1090.7 247.8l3.3 3.3l-3.3 3.3l-3.3 -3.3zM1072.5 269.6l3.3 3.3l-3.3 3.3l-3.3 -3.3zM1082.3 283.5l3.3 3.3l-3.3 3.3l-3.3 -3.3zM1177.4 293.3l3.3 3.3l-3.3 3.3l-3.3 -3.3zM1096.2 319.5l3.3 3.3l-3.3 3.3l-3.3 -3.3zM1133.4 326.4l3.3 3.3l-3.3 3.3l-3.3 -3.3zM1226 311.1l3.3 3.3l-3.3 3.3l-3.3 -3.3zM1206.7 328.8l3.3 3.3l-3.3 3.3l-3.3 -3.3zM1257.6 282.1l3.3 3.3l-3.3 3.3l-3.3 -3.3zM1275.7 199.6l3.3 3.3l-3.3 3.3l-3.3 -3.3zM1197 355.5l3.3 3.3l-3.3 3.3l-3.3 -3.3zM1333.8 323.5l3.3 3.3l-3.3 3.3l-3.3 -3.3zM1010.6 362.3l3.3 3.3l-3.3 3.3l-3.3 -3.3zM1078.1 362.3l3.3 3.3l-3.3 3.3l-3.3 -3.3zM1046.2 420.2l3.3 3.3l-3.3 3.3l-3.3 -3.3zM1013.2 429.9l3.3 3.3l-3.3 3.3l-3.3 -3.3zM1119.5 406.5l3.3 3.3l-3.3 3.3l-3.3 -3.3zM1118.2 418.9l3.3 3.3l-3.3 3.3l-3.3 -3.3zM1140.4 417.5l3.3 3.3l-3.3 3.3l-3.3 -3.3zM1108.3 421.6l3.3 3.3l-3.3 3.3l-3.3 -3.3zM1097.3 437l3.3 3.3l-3.3 3.3l-3.3 -3.3zM1105.8 434l3.3 3.3l-3.3 3.3l-3.3 -3.3zM1080.8 461.8l3.3 3.3l-3.3 3.3l-3.3 -3.3zM1083.8 460l3.3 3.3l-3.3 3.3l-3.3 -3.3zM1086.7 458.6l3.3 3.3l-3.3 3.3l-3.3 -3.3zM1090.6 465.9l3.3 3.3l-3.3 3.3l-3.3 -3.3zM1059 474.1l3.3 3.3l-3.3 3.3l-3.3 -3.3zM1040.7 481.2l3.3 3.3l-3.3 3.3l-3.3 -3.3zM1046.4 484.8l3.3 3.3l-3.3 3.3l-3.3 -3.3zM1046.4 490.7l3.3 3.3l-3.3 3.3l-3.3 -3.3zM1035.2 492.2l3.3 3.3l-3.3 3.3l-3.3 -3.3zM1033.6 499.3l3.3 3.3l-3.3 3.3l-3.3 -3.3zM1035.2 506.2l3.3 3.3l-3.3 3.3l-3.3 -3.3zM1014.2 507.2l3.3 3.3l-3.3 3.3l-3.3 -3.3zM1020.1 507.2l3.3 3.3l-3.3 3.3l-3.3 -3.3zM1028.3 512.8l3.3 3.3l-3.3 3.3l-3.3 -3.3zM1002.1 514.3l3.3 3.3l-3.3 3.3l-3.3 -3.3zM1082.3 514.3l3.3 3.3l-3.3 3.3l-3.3 -3.3zM897.2 368l3.3 3.3l-3.3 3.3l-3.3 -3.3zM864.2 384.5l3.3 3.3l-3.3 3.3l-3.3 -3.3zM949.7 392.7l3.3 3.3l-3.3 3.3l-3.3 -3.3zM995.1 368l3.3 3.3l-3.3 3.3l-3.3 -3.3zM897.2 428.5l3.3 3.3l-3.3 3.3l-3.3 -3.3zM988.4 449.4l3.3 3.3l-3.3 3.3l-3.3 -3.3zM998.1 450.6l3.3 3.3l-3.3 3.3l-3.3 -3.3zM974.5 464.5l3.3 3.3l-3.3 3.3l-3.3 -3.3zM980.2 461.8l3.3 3.3l-3.3 3.3l-3.3 -3.3zM948.3 481l3.3 3.3l-3.3 3.3l-3.3 -3.3zM966.2 481l3.3 3.3l-3.3 3.3l-3.3 -3.3zM886 501.6l3.3 3.3l-3.3 3.3l-3.3 -3.3zM894.3 506l3.3 3.3l-3.3 3.3l-3.3 -3.3zM887.5 513.1l3.3 3.3l-3.3 3.3l-3.3 -3.3zM898.6 511.3l3.3 3.3l-3.3 3.3l-3.3 -3.3zM953.9 504.2l3.3 3.3l-3.3 3.3l-3.3 -3.3zM920.8 524.9l3.3 3.3l-3.3 3.3l-3.3 -3.3zM971.5 540.4l3.3 3.3l-3.3 3.3l-3.3 -3.3zM893.1 551.3l3.3 3.3l-3.3 3.3l-3.3 -3.3zM872.4 563.9l3.3 3.3l-3.3 3.3l-3.3 -3.3zM884.6 561l3.3 3.3l-3.3 3.3l-3.3 -3.3zM881.9 568.1l3.3 3.3l-3.3 3.3l-3.3 -3.3zM859.8 588.5l3.3 3.3l-3.3 3.3l-3.3 -3.3zM953.6 562.8l3.3 3.3l-3.3 3.3l-3.3 -3.3zM967.4 574.9l3.3 3.3l-3.3 3.3l-3.3 -3.3zM993.7 569.3l3.3 3.3l-3.3 3.3l-3.3 -3.3zM1000.5 576.6l3.3 3.3l-3.3 3.3l-3.3 -3.3zM1006.4 576.6l3.3 3.3l-3.3 3.3l-3.3 -3.3zM928.8 591.4l3.3 3.3l-3.3 3.3l-3.3 -3.3zM930.3 598.5l3.3 3.3l-3.3 3.3l-3.3 -3.3zM915.2 602.5l3.3 3.3l-3.3 3.3l-3.3 -3.3zM949.5 590.3l3.3 3.3l-3.3 3.3l-3.3 -3.3zM959.2 590.3l3.3 3.3l-3.3 3.3l-3.3 -3.3zM1034.2 501.2l3.3 3.3l-3.3 3.3l-3.3 -3.3z"/>
<rect x="840.1" y="119.1" width="566.3000000000001" height="506.69999999999993" fill="none" stroke="#333" stroke-width="2.1" stroke-linejoin="round"/>
<rect x="840.1" y="119.1" width="136.69999999999993" height="59.30000000000001" fill="#fff" stroke="#333" stroke-width="2"/>
<rect x="853.9" y="132.7" width="12" height="11.6" rx="1" fill="#c6c6c6" stroke="#111" stroke-width="1.6"/>
<rect x="853.9" y="153.2" width="12" height="11" rx="1" fill="#ff0000" stroke="#111" stroke-width="1.6"/>
<g font-family='"Liberation Serif", serif' font-size="16">
<text x="880.6" y="146">no significant</text>
<text x="880.6" y="165.5">|FC|&gt;=1.5</text>
</g>
<g stroke="#222" stroke-width="1.7">
<line x1="828.2" y1="587.8" x2="840.1" y2="587.8"/>
<line x1="828.2" y1="504" x2="840.1" y2="504"/>
<line x1="828.2" y1="420.2" x2="840.1" y2="420.2"/>
<line x1="828.2" y1="336.4" x2="840.1" y2="336.4"/>
<line x1="828.2" y1="252.6" x2="840.1" y2="252.6"/>
<line x1="828.2" y1="168.8" x2="840.1" y2="168.8"/>
<line x1="896.3" y1="625.8" x2="896.3" y2="635.7"/>
<line x1="988.9" y1="625.8" x2="988.9" y2="635.7"/>
<line x1="1081.5" y1="625.8" x2="1081.5" y2="635.7"/>
<line x1="1174.1" y1="625.8" x2="1174.1" y2="635.7"/>
<line x1="1266.7" y1="625.8" x2="1266.7" y2="635.7"/>
<line x1="1359.3" y1="625.8" x2="1359.3" y2="635.7"/>
</g>
<g font-family='"Liberation Serif", serif' font-weight="bold" font-size="17" text-anchor="middle">
<text transform="translate(896.3 663.1) scale(0.86 1)" font-size="19.5">2</text>
<text transform="translate(988.9 663.1) scale(0.86 1)" font-size="19.5">4</text>
<text transform="translate(1081.5 663.1) scale(0.86 1)" font-size="19.5">6</text>
<text transform="translate(1174.1 663.1) scale(0.86 1)" font-size="19.5">8</text>
<text transform="translate(1266.7 663.1) scale(0.86 1)" font-size="19.5">10</text>
<text transform="translate(1359.3 663.1) scale(0.86 1)" font-size="19.5">12</text>
<text transform="translate(816.2 587.8) rotate(-90) scale(0.8 1)" font-size="19.5" x="0" y="0">2</text>
<text transform="translate(816.2 504) rotate(-90) scale(0.8 1)" font-size="19.5" x="0" y="0">4</text>
<text transform="translate(816.2 420.2) rotate(-90) scale(0.8 1)" font-size="19.5" x="0" y="0">6</text>
<text transform="translate(816.2 336.4) rotate(-90) scale(0.8 1)" font-size="19.5" x="0" y="0">8</text>
<text transform="translate(816.2 252.6) rotate(-90) scale(0.8 1)" font-size="19.5" x="0" y="0">10</text>
<text transform="translate(816.2 168.8) rotate(-90) scale(0.8 1)" font-size="19.5" x="0" y="0">12</text>
</g>
<text transform="translate(777.3 500.5) rotate(-90)" font-family='"Liberation Sans", sans-serif' font-weight="bold" font-size="26.2" textLength="261" lengthAdjust="spacingAndGlyphs">Expression level of P</text>
<g font-family='"Liberation Sans", sans-serif' font-weight="bold" font-size="25.5">
<text x="1045.5" y="987.3"><tspan font-weight="normal">|</tspan>FC<tspan font-weight="normal">|</tspan> <tspan font-weight="normal" font-size="24">&#8805;</tspan> 1.5)</text>
</g>
<rect x="880.5" y="1039.2" width="316.5" height="74.7" fill="#808080" stroke="#000" stroke-width="2.6"/>
<rect x="880.5" y="1114.2" width="429.9" height="77.1" fill="#000" stroke="#000" stroke-width="2.6"/>
<path d="M880.7 1256.1 V1249.5 H1367 V1256.1" fill="none" stroke="#000" stroke-width="2.3" stroke-linejoin="round" stroke-linecap="round"/>
<g stroke="#000" stroke-width="2">
<line x1="880.7" y1="1249.5" x2="880.7" y2="1256.1" stroke-linecap="round"/>
<line x1="1042.8" y1="1249.5" x2="1042.8" y2="1256.1" stroke-linecap="round"/>
<line x1="1204.9" y1="1249.5" x2="1204.9" y2="1256.1" stroke-linecap="round"/>
<line x1="1367" y1="1249.5" x2="1367" y2="1256.1" stroke-linecap="round"/>
</g>
<g font-family='"Liberation Sans", sans-serif' font-weight="bold" font-size="26.6" text-anchor="middle">
<text x="880.7" y="1288.2">0</text>
<text x="1042.8" y="1288.2">20</text>
<text x="1204.9" y="1288.2">40</text>
<text x="1367" y="1288.2">60</text>
</g>
<text id="t_a" x="-1.5" y="33" font-family='"Liberation Sans", sans-serif' font-weight="bold" font-size="42.93">a</text>
<text id="t_b" x="773.05" y="33.04" font-family='"Liberation Sans", sans-serif' font-weight="bold" font-size="43.21">b</text>
<text id="t_cC" x="775.5" y="911.89" font-family='"Liberation Sans", sans-serif' font-weight="bold" font-size="34.62">C</text>
<text id="t_tA" x="187" y="89.66" font-family='"Liberation Sans", sans-serif' font-weight="bold" font-size="26.46" textLength="453.2" lengthAdjust="spacingAndGlyphs">Sig_Hierarchical clustering(P_vs_C)</text>
<text id="t_zs" x="330.01" y="118" font-family='"Liberation Sans", sans-serif' font-weight="normal" font-size="23.25" textLength="74.5" lengthAdjust="spacingAndGlyphs">Z-score</text>
<text id="t_tB" x="872.47" y="88.98" font-family='"Liberation Sans", sans-serif' font-weight="bold" font-size="26.3" textLength="500.6" lengthAdjust="spacingAndGlyphs">Plot of expression level between P_vs_C</text>
<text id="t_xl" x="1004.85" y="705.48" font-family='"Liberation Sans", sans-serif' font-weight="bold" font-size="25.73" textLength="260.6" lengthAdjust="spacingAndGlyphs">Expression level of C</text>
<text id="t_c1" x="861.24" y="958.86" font-family='"Liberation Sans", sans-serif' font-weight="bold" font-size="25.36" textLength="481.8" lengthAdjust="spacingAndGlyphs">UP, DOWN regulated miRNAs count (by</text>
<text id="t_up" x="1205.92" y="1087.22" font-family='"Liberation Sans", sans-serif' font-weight="bold" font-size="25.19" textLength="78.5" lengthAdjust="spacingAndGlyphs">UP, 39</text>
<text id="t_dn" x="1313.88" y="1162.26" font-family='"Liberation Sans", sans-serif' font-weight="bold" font-size="24.86" textLength="125.6" lengthAdjust="spacingAndGlyphs">DOWN, 53</text>
<text id="t_cnt" x="1016.22" y="1322.22" font-family='"Liberation Sans", sans-serif' font-weight="bold" font-size="23.89" textLength="211.6" lengthAdjust="spacingAndGlyphs">Count of miRNAs</text>
<text id="t_pc" x="764.54" y="1109.22" font-family='"Liberation Sans", sans-serif' font-weight="bold" font-size="25" textLength="94.4" lengthAdjust="spacingAndGlyphs">P/C. 1.5</text>
<text id="t_fc" x="794.93" y="1137.44" font-family='"Liberation Sans", sans-serif' font-weight="bold" font-size="25.9">FC</text>
<text id="t_hP" x="286.55" y="2284.61" font-family='"Liberation Sans", sans-serif' font-weight="bold" font-size="27.8">P</text>
<text id="t_hC" x="416.72" y="2284.61" font-family='"Liberation Sans", sans-serif' font-weight="bold" font-size="26.37">C</text>
<text id="t_ck" x="49.28" y="94.24" font-family='"Liberation Serif", serif' font-weight="bold" font-size="19.12" textLength="90.8" lengthAdjust="spacingAndGlyphs">Color Key</text>
<text id="t_rz" x="47.1" y="213.62" font-family='"Liberation Serif", serif' font-weight="normal" font-size="16.4" textLength="92.8" lengthAdjust="spacingAndGlyphs">Row Z-Score</text>
</svg></body></html>
